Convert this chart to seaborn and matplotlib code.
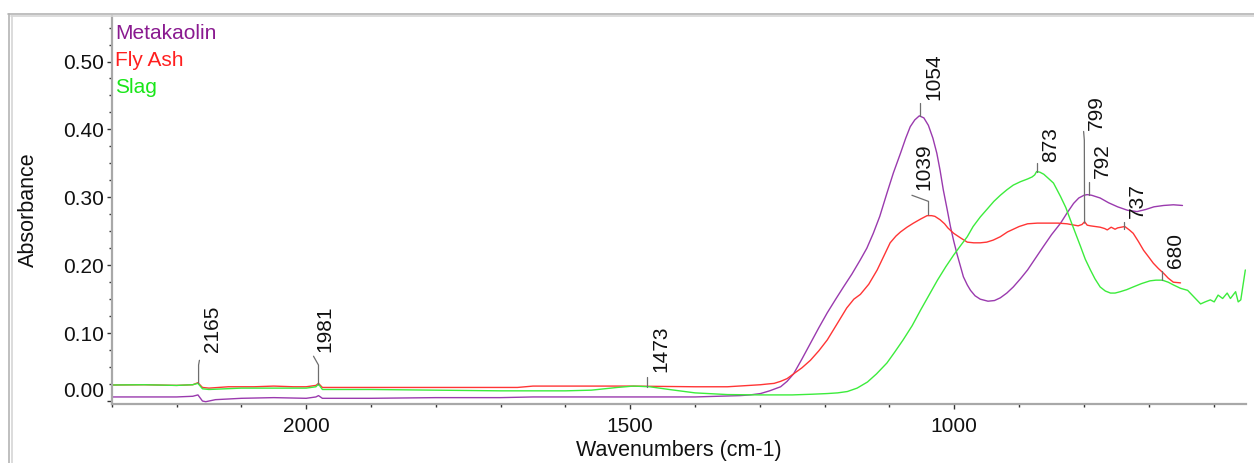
import numpy as np
import pandas as pd
import matplotlib
matplotlib.use("Agg")
import matplotlib.pyplot as plt
import seaborn as sns
from matplotlib.lines import Line2D
from matplotlib.ticker import FixedLocator, MultipleLocator, FuncFormatter
from matplotlib.transforms import ScaledTranslation

# ---------------- data ----------------
series_names = ["Metakaolin", "Fly Ash", "Slag"]

mk_wn = [2300, 2250, 2200, 2175, 2167, 2160, 2155, 2140, 2100, 2050, 2000, 1985, 1981, 1975,
         1900, 1800, 1700, 1650, 1500, 1400, 1330, 1315, 1299, 1285, 1268, 1258, 1248, 1235, 1222,
         1209, 1196, 1183, 1171, 1158, 1145, 1135, 1125, 1115, 1104, 1094, 1083, 1075, 1068, 1061,
         1054, 1047, 1040, 1033, 1027, 1022, 1017, 1011, 1006, 1001, 996, 991, 986, 980, 975, 968,
         960, 948, 938, 929, 919, 909, 898, 887, 875, 863, 850, 836, 826, 816, 808, 800, 795, 788,
         775, 762, 748, 733, 718, 705, 692, 677, 662, 648]
mk_abs = [0.006, 0.006, 0.006, 0.007, 0.009, 0.000, -0.001, 0.002, 0.004, 0.005, 0.004, 0.006, 0.008, 0.004,
          0.004, 0.005, 0.005, 0.006, 0.006, 0.006, 0.008, 0.009, 0.011, 0.015, 0.021, 0.029, 0.040, 0.062, 0.085,
          0.108, 0.130, 0.150, 0.168, 0.187, 0.208, 0.225, 0.247, 0.272, 0.306, 0.336, 0.365, 0.387, 0.404, 0.414,
          0.420, 0.417, 0.406, 0.387, 0.365, 0.340, 0.311, 0.282, 0.257, 0.236, 0.217, 0.200, 0.183, 0.171, 0.163, 0.155,
          0.150, 0.147, 0.148, 0.152, 0.159, 0.168, 0.180, 0.193, 0.210, 0.227, 0.245, 0.262, 0.277, 0.291, 0.299, 0.303, 0.304, 0.303,
          0.299, 0.292, 0.286, 0.281, 0.279, 0.282, 0.286, 0.288, 0.289, 0.288]

fa_wn = [2300, 2250, 2200, 2175, 2167, 2160, 2150, 2120, 2080, 2050, 2020, 2000, 1985, 1981, 1975,
         1950, 1900, 1800, 1700, 1674, 1650, 1500, 1400, 1350, 1299, 1289, 1278, 1268, 1258, 1248,
         1235, 1222, 1209, 1196, 1180, 1166, 1155, 1145, 1132, 1119, 1109, 1099, 1090, 1083, 1073,
         1063, 1052, 1042, 1035, 1030, 1022, 1015, 1010, 1001, 990, 980, 970, 960, 950, 940, 929,
         918, 909, 900, 887, 872, 856, 840, 826, 809, 803, 799, 795, 790, 775, 768, 764, 758, 752,
         748, 737, 730, 724, 716, 708, 700, 693, 685, 677, 670, 662, 651]
fa_abs = [0.0236, 0.024, 0.023, 0.024, 0.027, 0.020, 0.019, 0.021, 0.021, 0.022, 0.021, 0.021, 0.023, 0.026, 0.020,
          0.020, 0.020, 0.020, 0.020, 0.020, 0.022, 0.022, 0.021, 0.021, 0.024, 0.025, 0.026, 0.029, 0.033, 0.040,
          0.049, 0.060, 0.074, 0.090, 0.115, 0.137, 0.150, 0.157, 0.172, 0.193, 0.213, 0.233, 0.243, 0.249, 0.256,
          0.262, 0.268, 0.273, 0.273, 0.272, 0.267, 0.261, 0.255, 0.247, 0.240, 0.234, 0.233, 0.233, 0.234, 0.237, 0.242,
          0.249, 0.253, 0.257, 0.261, 0.262, 0.262, 0.262, 0.261, 0.258, 0.260, 0.264, 0.259, 0.258, 0.256, 0.254, 0.252, 0.256, 0.253,
          0.255, 0.257, 0.252, 0.247, 0.235, 0.222, 0.212, 0.203, 0.195, 0.188, 0.181, 0.175, 0.174]

sl_wn = [2300, 2250, 2200, 2175, 2167, 2160, 2150, 2100, 2000, 1985, 1981, 1975, 1900, 1800, 1700,
         1600, 1560, 1520, 1495, 1470, 1440, 1400, 1350, 1300, 1250, 1220, 1196, 1180, 1165, 1150,
         1134, 1120, 1104, 1092, 1079, 1065, 1052, 1039, 1026, 1013, 1001, 991, 980, 971, 960, 949,
         939, 929, 919, 909, 898, 887, 880, 876, 873, 868, 862, 855, 847, 842, 836, 828, 821, 813,
         805, 798, 790, 783, 775, 767, 759, 752, 744, 734, 724, 711, 698, 689, 679, 670, 662, 651,
         640, 631, 620, 613, 605, 599, 593, 586, 579, 574, 566, 562, 558, 551]
sl_abs = [0.0236, 0.024, 0.023, 0.024, 0.026, 0.018, 0.017, 0.019, 0.019, 0.021, 0.025, 0.017, 0.017, 0.016, 0.015,
          0.015, 0.016, 0.020, 0.022, 0.021, 0.017, 0.012, 0.0095, 0.009, 0.009, 0.010, 0.011, 0.012, 0.014, 0.019,
          0.028, 0.040, 0.056, 0.072, 0.090, 0.111, 0.134, 0.156, 0.178, 0.198, 0.215, 0.228, 0.242, 0.257, 0.271, 0.283,
          0.294, 0.303, 0.311, 0.318, 0.323, 0.327, 0.330, 0.333, 0.338, 0.337, 0.334, 0.328, 0.321, 0.312, 0.301, 0.285, 0.267, 0.247,
          0.227, 0.209, 0.193, 0.180, 0.168, 0.162, 0.159, 0.159, 0.161, 0.164, 0.168, 0.173, 0.177, 0.178, 0.178, 0.175, 0.171, 0.166,
          0.163, 0.154, 0.143, 0.146, 0.149, 0.146, 0.156, 0.151, 0.159, 0.151, 0.161, 0.146, 0.149, 0.193]

peak_labels = ["2165", "1981", "1473", "1054", "1039", "873", "799", "792", "737", "680"]
# marker line vertices (wavenumber, absorbance) for each peak label
peak_line_x = [[2166, 2166, 2164.7], [1981, 1981, 1988.7], [1474, 1474], [1053, 1053],
               [1039.8, 1039.8, 1065.4], [872.4, 872.4], [799, 799.4, 800.5], [791.7, 791.7],
               [737.7, 737.7], [679.5, 679.5]]
peak_line_y = [[0.026, 0.053, 0.060], [0.0236, 0.053, 0.066], [0.0206, 0.0353], [0.420, 0.439],
               [0.274, 0.294, 0.303], [0.338, 0.351], [0.262, 0.384, 0.397], [0.304, 0.323],
               [0.254, 0.264], [0.178, 0.192]]
peak_text_x = [2145, 1971, 1453, 1032, 1047, 851, 781, 772, 718, 659]
peak_text_y = [0.072, 0.072, 0.043, 0.443, 0.311, 0.352, 0.399, 0.328, 0.270, 0.196]

x_ticks = [2000, 1500, 1000]
y_ticks = [0.0, 0.1, 0.2, 0.3, 0.4, 0.5]

line_colors = ["#9a3aae", "#ff3535", "#3cec3c"]
text_colors = ["#8a1a90", "#ff1f1f", "#19e619"]

# ---------------- figure ----------------
sns.set_style("ticks")
plt.rcParams["font.family"] = ["Liberation Sans", "DejaVu Sans"]

fig = plt.figure(figsize=(12.54, 4.63), dpi=100)
ax = fig.add_axes([0.0891, 0.1274, 0.9045, 0.838])

frames = [
    pd.DataFrame({"wn": mk_wn, "abs": mk_abs}),
    pd.DataFrame({"wn": fa_wn, "abs": fa_abs}),
    pd.DataFrame({"wn": sl_wn, "abs": sl_abs}),
]
for df, c in zip(frames, line_colors):
    sns.lineplot(data=df, x="wn", y="abs", color=c, lw=1.0, ax=ax, estimator=None)

# peak markers
for lx, ly, tx, ty, lab in zip(peak_line_x, peak_line_y, peak_text_x, peak_text_y, peak_labels):
    ax.plot(lx, ly, color="#6e6e6e", lw=0.9)
    ax.text(tx, ty, lab, rotation=90, ha="center", va="bottom", fontsize=15, color="#111111")

ax.set_xlim(2300, 550)
ax.set_ylim(-0.0044, 0.567)

ax.xaxis.set_major_locator(FixedLocator(x_ticks))
ax.xaxis.set_minor_locator(MultipleLocator(100))
ax.yaxis.set_major_locator(FixedLocator(y_ticks))
ax.yaxis.set_minor_locator(MultipleLocator(0.025))
ax.yaxis.set_major_formatter(FuncFormatter(lambda v, p: f"{v:.2f}"))

for s in ["top", "right"]:
    ax.spines[s].set_visible(False)
for s in ["left", "bottom"]:
    ax.spines[s].set_color("#a8a8a8")
    ax.spines[s].set_linewidth(1.6)

ax.tick_params(axis="both", which="major", direction="out", length=3.5, width=1.0,
               color="#333333", labelsize=15, labelcolor="#111111")
ax.tick_params(axis="x", which="major", pad=6)
ax.tick_params(axis="y", which="major", pad=2)
ax.tick_params(axis="both", which="minor", direction="out", length=2.5, width=1.0, color="#333333")

ax.set_xlabel("Wavenumbers (cm-1)", fontsize=15.5, color="#111111")
ax.set_ylabel("Absorbance", fontsize=15.5, color="#111111")
ax.xaxis.set_label_coords(0.5, -0.093)
ax.yaxis.set_label_coords(-0.064, 0.5)

# shift the 0.00 label up as in the reference
fig.canvas.draw()
for t in ax.yaxis.get_major_ticks():
    if abs(t.get_loc()) < 1e-9:
        t.label1.set_transform(t.label1.get_transform()
                               + ScaledTranslation(0, 0.12, fig.dpi_scale_trans))

# series names
base_y = [39, 66, 93]
for name, c, by in zip(series_names, text_colors, base_y):
    fig.text(115 / 1254, 1 - by / 463, name, color=c, fontsize=15, ha="left", va="baseline")

# window frame
W, H = 1254, 463
fig.add_artist(Line2D([8 / W, 1], [1 - 13.5 / H, 1 - 13.5 / H], color="#b4b4b4", lw=1.2, transform=fig.transFigure))
fig.add_artist(Line2D([11 / W, 1], [1 - 16 / H, 1 - 16 / H], color="#d6d6d6", lw=1.2, transform=fig.transFigure))
fig.add_artist(Line2D([8.5 / W, 8.5 / W], [1 - 13.5 / H, 0], color="#b4b4b4", lw=1.2, transform=fig.transFigure))
fig.add_artist(Line2D([11.5 / W, 11.5 / W], [1 - 16 / H, 0], color="#d6d6d6", lw=1.2, transform=fig.transFigure))

fig.savefig("out.png", dpi=100)
